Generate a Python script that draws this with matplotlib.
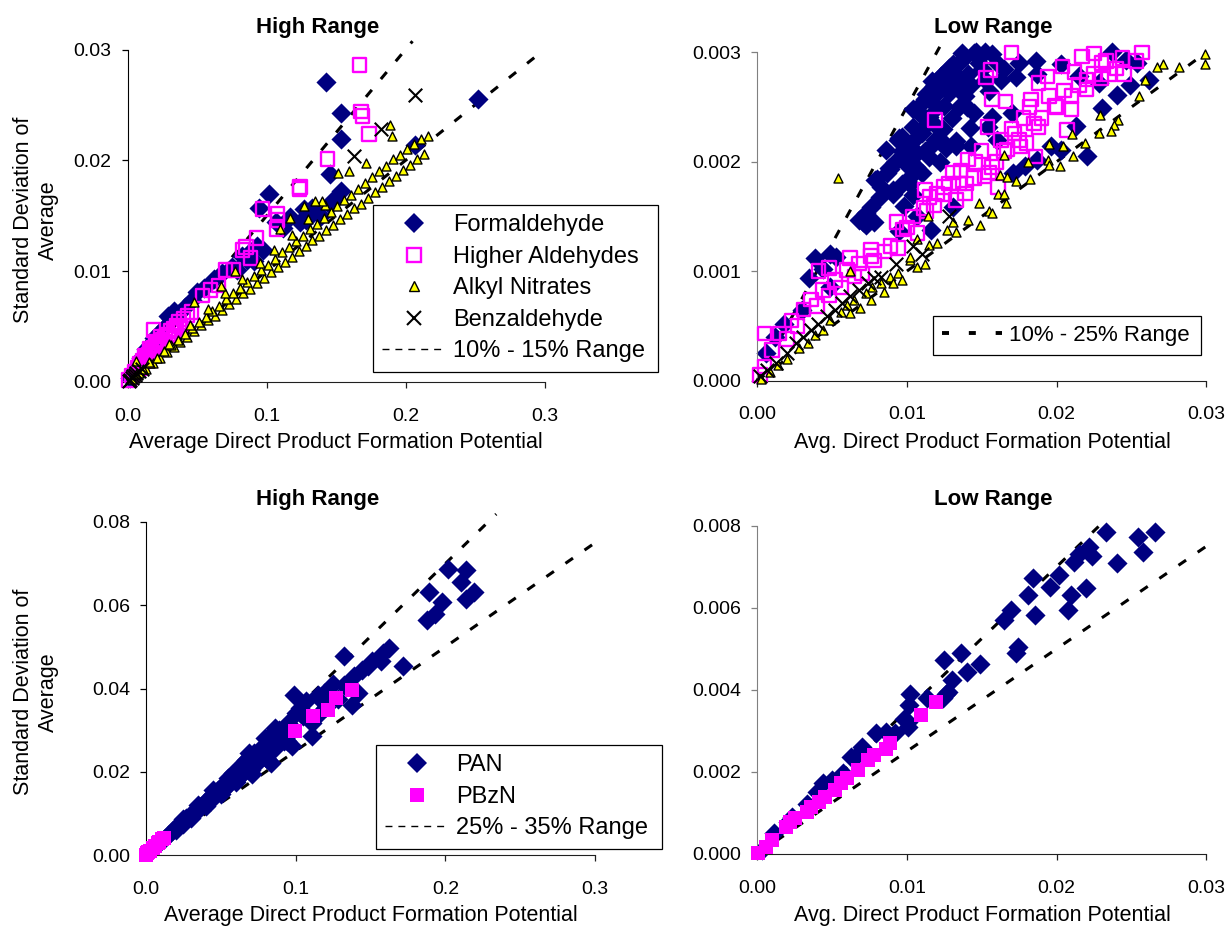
"""Variability of direct product formation potentials: high and low range panels."""

import matplotlib
matplotlib.use("Agg")
import matplotlib.pyplot as plt
from matplotlib.lines import Line2D
from matplotlib.ticker import FormatStrFormatter
import numpy as np

plt.rcParams["font.family"] = ["Liberation Sans", "DejaVu Sans"]

NAVY = "#000080"
MAGENTA = "#FF00FF"
YELLOW = "#FFFF00"

# ---- top row: aldehydes and nitrates, high range (x, y) ----
tl_formaldehyde = [
    (0.143, 0.0271), (0.252, 0.0255), (0.1536, 0.0243), (0.1536, 0.0219), (0.1459, 0.0188),
    (0.1536, 0.0172), (0.1017, 0.0170), (0.0946, 0.0157), (0.117, 0.0149), (0.124, 0.0144),
    (0.128, 0.0146), (0.133, 0.0157), (0.1457, 0.0160), (0.107, 0.0144), (0.147, 0.0163),
    (0.2066, 0.0214), (0.0976, 0.0119), (0.0859, 0.0110), (0.093, 0.0123), (0.0333, 0.0064),
    (0.0287, 0.0060), (0.050, 0.0081), (0.0187, 0.0040), (0.0129, 0.0030), (0.0093, 0.0022),
    (0.112, 0.0139), (0.139, 0.0150), (0.002, 0.0004), (0.004, 0.0008), (0.006, 0.0012),
    (0.008, 0.0016), (0.011, 0.0022), (0.015, 0.0029), (0.017, 0.0034), (0.021, 0.0041),
    (0.024, 0.0046), (0.027, 0.0050), (0.031, 0.0057), (0.036, 0.0061), (0.041, 0.0068),
    (0.046, 0.0074), (0.055, 0.0085), (0.062, 0.0093), (0.068, 0.0098), (0.075, 0.0104),
    (0.082, 0.0114), (0.088, 0.0117), (0.091, 0.0109), (0.079, 0.0101), (0.127, 0.0156),
]
tl_higher_ald = [
    (0.1667, 0.0286), (0.168, 0.0244), (0.169, 0.0240), (0.1735, 0.0224), (0.1439, 0.0201),
    (0.124, 0.0176), (0.1235, 0.0174), (0.0969, 0.0156), (0.1077, 0.0152), (0.1077, 0.0146),
    (0.107, 0.0138), (0.0926, 0.0130), (0.0825, 0.0119), (0.085, 0.0122), (0.0883, 0.0112),
    (0.0703, 0.0101), (0.076, 0.0101), (0.0596, 0.0083), (0.0538, 0.0078), (0.0653, 0.0087),
    (0.0187, 0.0047), (0.001, 0.0002), (0.003, 0.0006), (0.005, 0.0009), (0.007, 0.0013),
    (0.009, 0.0016), (0.011, 0.0019), (0.013, 0.0022), (0.015, 0.0025), (0.017, 0.0028),
    (0.019, 0.0031), (0.021, 0.0033), (0.023, 0.0036), (0.025, 0.0038), (0.027, 0.0041),
    (0.029, 0.0043), (0.031, 0.0046), (0.033, 0.0048), (0.035, 0.0051), (0.037, 0.0054),
    (0.040, 0.0057), (0.043, 0.0060), (0.046, 0.0063), (0.012, 0.0024), (0.016, 0.0030),
    (0.020, 0.0036), (0.024, 0.0041), (0.014, 0.0020), (0.018, 0.0026), (0.022, 0.0031),
    (0.026, 0.0036), (0.030, 0.0041), (0.034, 0.0046), (0.038, 0.0050), (0.008, 0.0012),
    (0.010, 0.0015),
]
tl_alkyl = [
    # lower edge of the band
    (0.003, 0.0003), (0.008, 0.0008), (0.013, 0.0012), (0.018, 0.0017), (0.023, 0.0022),
    (0.028, 0.0027), (0.033, 0.0032), (0.038, 0.0036), (0.043, 0.0041), (0.048, 0.0046),
    (0.053, 0.0051), (0.058, 0.0056), (0.063, 0.0060), (0.068, 0.0065), (0.073, 0.0070),
    (0.078, 0.0075), (0.083, 0.0080), (0.088, 0.0084), (0.093, 0.0089), (0.098, 0.0094),
    (0.103, 0.0099), (0.108, 0.0104), (0.113, 0.0108), (0.118, 0.0113), (0.123, 0.0118),
    (0.128, 0.0123), (0.133, 0.0128), (0.138, 0.0132), (0.143, 0.0137), (0.148, 0.0142),
    (0.153, 0.0147), (0.158, 0.0152), (0.163, 0.0157), (0.168, 0.0161), (0.173, 0.0166),
    (0.178, 0.0171), (0.183, 0.0176), (0.188, 0.0181), (0.193, 0.0186), (0.198, 0.0191),
    (0.203, 0.0196), (0.208, 0.0201), (0.213, 0.0206),
    # middle of the band
    (0.006, 0.0007), (0.011, 0.0012), (0.016, 0.0017), (0.021, 0.0022), (0.026, 0.0028),
    (0.031, 0.0033), (0.036, 0.0038), (0.041, 0.0043), (0.046, 0.0049), (0.051, 0.0054),
    (0.056, 0.0059), (0.061, 0.0064), (0.066, 0.0069), (0.071, 0.0075), (0.076, 0.0080),
    (0.081, 0.0085), (0.086, 0.0090), (0.091, 0.0096), (0.096, 0.0101), (0.101, 0.0106),
    (0.106, 0.0111), (0.111, 0.0117), (0.116, 0.0122), (0.121, 0.0127), (0.126, 0.0132),
    (0.131, 0.0138), (0.136, 0.0143), (0.141, 0.0148), (0.146, 0.0153), (0.151, 0.0159),
    (0.156, 0.0164), (0.161, 0.0169), (0.166, 0.0174), (0.171, 0.0180), (0.176, 0.0185),
    (0.181, 0.0190), (0.186, 0.0195), (0.191, 0.0201), (0.196, 0.0205), (0.201, 0.0210),
    (0.206, 0.0215), (0.211, 0.0219), (0.216, 0.0222),
    # upper side and strays
    (0.015, 0.0018), (0.030, 0.0034), (0.045, 0.0051), (0.058, 0.0066), (0.070, 0.0080),
    (0.082, 0.0093), (0.095, 0.0107), (0.105, 0.0119), (0.118, 0.0133), (0.130, 0.0147),
    (0.142, 0.0160), (0.1886, 0.0232), (0.190, 0.0222), (0.1715, 0.0198), (0.1516, 0.0189),
    (0.159, 0.0190), (0.127, 0.0159), (0.140, 0.0163), (0.1094, 0.0138), (0.0775, 0.0100),
    (0.0476, 0.0072), (0.0675, 0.0087), (0.0063, 0.0019), (0.135, 0.0163), (0.117, 0.0148),
]
tl_benzaldehyde = [
    (0.2066, 0.0259), (0.182, 0.0228), (0.163, 0.0204), (0.001, 0.0001), (0.002, 0.0002),
    (0.003, 0.0004), (0.004, 0.0005), (0.005, 0.0006), (0.006, 0.0008), (0.008, 0.0010),
    (0.010, 0.0012),
]

# ---- top row, low range ----
tr_formaldehyde = [
    (0.0012, 0.00040), (0.0018, 0.00052), (0.0030, 0.00065), (0.0035, 0.00094), (0.0039, 0.00112),
    (0.0049, 0.00116), (0.0053, 0.00113), (0.0049, 0.00086), (0.0044, 0.00102), (0.0068, 0.00147),
    (0.0073, 0.00142), (0.0078, 0.00145), (0.0073, 0.00153), (0.0071, 0.00145), (0.0076, 0.00159),
    (0.0080, 0.00184), (0.0079, 0.00183), (0.0082, 0.00168), (0.0083, 0.00177), (0.0089, 0.00193),
    (0.0091, 0.00171), (0.0086, 0.00211), (0.0088, 0.00194), (0.0091, 0.00174), (0.0094, 0.00220),
    (0.0095, 0.00222), (0.0097, 0.00223), (0.0097, 0.00180), (0.0095, 0.00137), (0.0099, 0.00199),
    (0.0102, 0.00180), (0.0102, 0.00186), (0.0104, 0.00248), (0.0104, 0.00232), (0.0106, 0.00195),
    (0.0107, 0.00208), (0.0107, 0.00150), (0.0110, 0.00226), (0.0111, 0.00255), (0.0112, 0.00257),
    (0.0115, 0.00204), (0.0115, 0.00241), (0.0116, 0.00138), (0.0117, 0.00274), (0.0118, 0.00269),
    (0.0120, 0.00232), (0.0120, 0.00250), (0.0123, 0.00278), (0.0124, 0.00280), (0.0125, 0.00251),
    (0.0125, 0.00217), (0.0126, 0.00213), (0.0128, 0.00263), (0.0128, 0.00286), (0.0131, 0.00289),
    (0.0131, 0.00159), (0.0133, 0.00214), (0.0133, 0.00219), (0.0136, 0.00269), (0.0137, 0.00299),
    (0.0139, 0.00296), (0.0141, 0.00280), (0.0142, 0.00231), (0.0143, 0.00214), (0.0145, 0.00299),
    (0.0145, 0.00245), (0.0146, 0.00300), (0.0152, 0.00275), (0.0155, 0.00265), (0.0157, 0.00298),
    (0.0157, 0.00241), (0.0165, 0.00285), (0.0170, 0.00245), (0.0173, 0.00277), (0.0175, 0.00290),
    (0.0186, 0.00292), (0.0187, 0.00280), (0.0100, 0.00210), (0.0105, 0.00220), (0.0110, 0.00230),
    (0.0112, 0.00240), (0.0118, 0.00260), (0.0122, 0.00270), (0.0127, 0.00270), (0.0132, 0.00280),
    (0.0135, 0.00290), (0.0108, 0.00245), (0.0113, 0.00262), (0.0119, 0.00220), (0.0124, 0.00230),
    (0.0130, 0.00240), (0.0135, 0.00250), (0.0139, 0.00260), (0.0143, 0.00270), (0.0148, 0.00290),
    (0.0152, 0.00300), (0.0092, 0.00200), (0.0087, 0.00190), (0.0097, 0.00210), (0.0103, 0.00200),
    (0.0112, 0.00210), (0.0117, 0.00215), (0.0160, 0.00290), (0.0150, 0.00285), (0.0140, 0.00250),
    (0.0163, 0.00275), (0.0203, 0.00289), (0.0215, 0.00278), (0.0228, 0.00272), (0.0237, 0.00300),
    (0.0246, 0.00293), (0.0254, 0.00290), (0.0262, 0.00275), (0.0249, 0.00270), (0.0240, 0.00261),
    (0.0230, 0.00249), (0.0213, 0.00233), (0.0196, 0.00214), (0.0203, 0.00211), (0.0179, 0.00196),
    (0.0171, 0.00190), (0.0187, 0.00202), (0.0220, 0.00205), (0.0154, 0.00232), (0.0160, 0.00220),
    (0.0006, 0.00025), (0.0098, 0.00160), (0.0104, 0.00170), (0.0110, 0.00190), (0.0122, 0.00200),
]
tr_higher_ald = [
    (0.0005, 0.00043), (0.0041, 0.00100), (0.0048, 0.00103), (0.0062, 0.00112), (0.0076, 0.00120),
    (0.0076, 0.00114), (0.0094, 0.00121), (0.0093, 0.00145), (0.0107, 0.00135), (0.0111, 0.00158),
    (0.0112, 0.00174), (0.0120, 0.00171), (0.0131, 0.00190), (0.0133, 0.00165), (0.0139, 0.00171),
    (0.0141, 0.00202), (0.0152, 0.00187), (0.0161, 0.00177), (0.0157, 0.00195), (0.0154, 0.00232),
    (0.0157, 0.00257), (0.0166, 0.00255), (0.0153, 0.00277), (0.0156, 0.00284), (0.0170, 0.00300),
    (0.0119, 0.00238), (0.0172, 0.00226), (0.0183, 0.00257), (0.0188, 0.00272), (0.0194, 0.00278),
    (0.0204, 0.00287), (0.0207, 0.00229), (0.0210, 0.00248), (0.0217, 0.00296), (0.0225, 0.00299),
    (0.0233, 0.00292), (0.0244, 0.00295), (0.0257, 0.00300), (0.0253, 0.00292), (0.0230, 0.00276),
    (0.0220, 0.00266), (0.0199, 0.00251), (0.0188, 0.00232), (0.0180, 0.00217), (0.0167, 0.00211),
    (0.0186, 0.00205), (0.0176, 0.00214), (0.0136, 0.00192), (0.0125, 0.00177), (0.0115, 0.00168),
    (0.0104, 0.00150), (0.0097, 0.00138), (0.0089, 0.00123), (0.0078, 0.00110), (0.0068, 0.00107),
    (0.0060, 0.00101), (0.0052, 0.00092), (0.0044, 0.00083), (0.0036, 0.00074), (0.0031, 0.00065),
    (0.0023, 0.00055), (0.0015, 0.00043), (0.0010, 0.00028), (0.0005, 0.00013), (0.0002, 0.00005),
    (0.0190, 0.00240), (0.0200, 0.00250), (0.0210, 0.00260), (0.0215, 0.00270), (0.0205, 0.00265),
    (0.0185, 0.00235), (0.0175, 0.00220), (0.0165, 0.00210), (0.0160, 0.00200), (0.0155, 0.00190),
    (0.0145, 0.00185), (0.0140, 0.00180), (0.0135, 0.00180), (0.0125, 0.00170), (0.0225, 0.00280),
    (0.0235, 0.00280), (0.0240, 0.00285), (0.0220, 0.00275), (0.0230, 0.00290), (0.0195, 0.00260),
    (0.0182, 0.00250), (0.0178, 0.00240), (0.0170, 0.00230), (0.0163, 0.00220), (0.0150, 0.00210),
    (0.0146, 0.00200), (0.0128, 0.00180), (0.0118, 0.00160), (0.0113, 0.00155), (0.0100, 0.00140),
    (0.0085, 0.00118), (0.0070, 0.00098), (0.0065, 0.00095), (0.0056, 0.00085), (0.0048, 0.00078),
    (0.0040, 0.00068), (0.0027, 0.00050), (0.0020, 0.00038), (0.0212, 0.00282), (0.0245, 0.00280),
]
tr_alkyl = [
    (0.0054, 0.00185), (0.0299, 0.00298), (0.0299, 0.00289), (0.0282, 0.00287), (0.0271, 0.00289),
    (0.0267, 0.00287), (0.0259, 0.00275), (0.0255, 0.00260), (0.0241, 0.00238), (0.0238, 0.00234),
    (0.0236, 0.00228), (0.0228, 0.00226), (0.0229, 0.00243), (0.0219, 0.00217), (0.0211, 0.00205),
    (0.0210, 0.00225), (0.0195, 0.00216), (0.0204, 0.00214), (0.0194, 0.00202), (0.0195, 0.00197),
    (0.0202, 0.00196), (0.0181, 0.00200), (0.0182, 0.00184), (0.0173, 0.00182), (0.0165, 0.00206),
    (0.0162, 0.00188), (0.0167, 0.00186), (0.0161, 0.00171), (0.0165, 0.00171), (0.0166, 0.00162),
    (0.0148, 0.00162), (0.0155, 0.00155), (0.0157, 0.00153), (0.0141, 0.00147), (0.0149, 0.00142),
    (0.0131, 0.00145), (0.0133, 0.00136), (0.0127, 0.00138), (0.0114, 0.00150), (0.0112, 0.00107),
    (0.0107, 0.00104), (0.0102, 0.00110), (0.0115, 0.00124), (0.0120, 0.00126), (0.0107, 0.00129),
    (0.0102, 0.00113), (0.0094, 0.00098), (0.0089, 0.00095), (0.0097, 0.00092), (0.0091, 0.00089),
    (0.0062, 0.00100), (0.0062, 0.00062), (0.0069, 0.00066), (0.0076, 0.00074), (0.0085, 0.00081),
    (0.0083, 0.00089), (0.0077, 0.00086), (0.0073, 0.00080), (0.0065, 0.00074), (0.0060, 0.00069),
    (0.0056, 0.00063), (0.0049, 0.00055), (0.0044, 0.00046), (0.0039, 0.00042), (0.0034, 0.00034),
    (0.0028, 0.00030), (0.0020, 0.00020), (0.0014, 0.00014), (0.0009, 0.00008), (0.0003, 0.00002),
]
tr_benzaldehyde = [
    (0.0128, 0.00150), (0.0104, 0.00123), (0.0110, 0.00116), (0.0093, 0.00107), (0.0083, 0.00095),
    (0.0078, 0.00094), (0.0074, 0.00089), (0.0068, 0.00083), (0.0062, 0.00077), (0.0057, 0.00071),
    (0.0052, 0.00065), (0.0047, 0.00059), (0.0041, 0.00052), (0.0036, 0.00046), (0.0031, 0.00040),
    (0.0026, 0.00034), (0.0020, 0.00025), (0.0013, 0.00016), (0.0007, 0.00010), (0.0002, 0.00004),
]

# ---- bottom row: PAN and PBzN ----
bl_pan = [
    (0.2017, 0.0688), (0.2141, 0.0684), (0.2102, 0.0656), (0.2194, 0.0632), (0.2141, 0.0616),
    (0.1977, 0.0608), (0.1890, 0.0632), (0.1930, 0.0580), (0.1877, 0.0564), (0.1626, 0.0497),
    (0.1586, 0.0485), (0.1573, 0.0465), (0.1507, 0.0465), (0.1480, 0.0453), (0.1440, 0.0445),
    (0.1718, 0.0454), (0.1322, 0.0477), (0.1388, 0.0429), (0.1322, 0.0409), (0.1414, 0.0389),
    (0.1375, 0.0361), (0.1190, 0.0389), (0.0991, 0.0385), (0.1070, 0.0369), (0.1030, 0.0353),
    (0.1110, 0.0317), (0.1110, 0.0285), (0.0950, 0.0317), (0.0860, 0.0305), (0.0978, 0.0261),
    (0.0833, 0.0221), (0.0793, 0.0281), (0.0687, 0.0245), (0.004, 0.0013), (0.008, 0.0026),
    (0.012, 0.0039), (0.015, 0.0049), (0.018, 0.0059), (0.021, 0.0069), (0.024, 0.0078),
    (0.027, 0.0088), (0.030, 0.0097), (0.033, 0.0107), (0.036, 0.0116), (0.039, 0.0126),
    (0.042, 0.0136), (0.045, 0.0146), (0.048, 0.0155), (0.051, 0.0165), (0.054, 0.0174),
    (0.057, 0.0184), (0.060, 0.0194), (0.063, 0.0203), (0.066, 0.0213), (0.069, 0.0222),
    (0.072, 0.0232), (0.075, 0.0241), (0.078, 0.0250), (0.081, 0.0262), (0.084, 0.0270),
    (0.087, 0.0283), (0.090, 0.0292), (0.093, 0.0300), (0.050, 0.0155), (0.056, 0.0172),
    (0.062, 0.0188), (0.068, 0.0205), (0.074, 0.0222), (0.080, 0.0240), (0.086, 0.0258),
    (0.092, 0.0275), (0.055, 0.0185), (0.062, 0.0210), (0.067, 0.0228), (0.072, 0.0245),
    (0.078, 0.0262), (0.083, 0.0285), (0.089, 0.0300), (0.076, 0.0235), (0.100, 0.0340),
    (0.105, 0.0335), (0.115, 0.0385), (0.118, 0.0368), (0.125, 0.0410), (0.128, 0.0375),
    (0.116, 0.0340), (0.120, 0.0355), (0.097, 0.0295), (0.094, 0.0275), (0.071, 0.0195),
    (0.082, 0.0225), (0.020, 0.0060), (0.025, 0.0075), (0.030, 0.0088), (0.035, 0.0108),
    (0.040, 0.0117), (0.045, 0.0138), (0.050, 0.0147), (0.055, 0.0168), (0.060, 0.0176),
    (0.065, 0.0198), (0.070, 0.0205), (0.080, 0.0232), (0.025, 0.0087), (0.035, 0.0120),
    (0.045, 0.0155), (0.058, 0.0198), (0.065, 0.0222),
]
bl_pbzn = [
    (0.1375, 0.0397), (0.1269, 0.0377), (0.1216, 0.0349), (0.1118, 0.0333), (0.0997, 0.0299),
    (0.0106, 0.0038), (0.0080, 0.0028), (0.0060, 0.0022), (0.0045, 0.0016), (0.0026, 0.0010),
    (0.0010, 0.0004), (0.0003, 0.0001), (0.0015, 0.0008), (0.0090, 0.0032), (0.0120, 0.0041),
]
br_pan = [
    (0.02331, 0.00785), (0.02659, 0.00784), (0.02546, 0.00773), (0.02575, 0.00737), (0.02404, 0.00708),
    (0.02218, 0.00747), (0.02234, 0.00727), (0.02152, 0.00732), (0.02115, 0.00712), (0.02194, 0.00647),
    (0.02094, 0.00631), (0.02076, 0.00594), (0.02016, 0.00680), (0.01958, 0.00651), (0.01845, 0.00672),
    (0.01806, 0.00631), (0.01858, 0.00582), (0.01693, 0.00594), (0.01648, 0.00570), (0.01740, 0.00505),
    (0.01732, 0.00489), (0.01491, 0.00464), (0.01360, 0.00489), (0.01249, 0.00473), (0.01404, 0.00444),
    (0.01302, 0.00424), (0.01276, 0.00395), (0.01241, 0.00379), (0.01136, 0.00379), (0.01024, 0.00391),
    (0.01018, 0.00363), (0.01005, 0.00322), (0.01005, 0.00310), (0.00980, 0.00330), (0.00919, 0.00294),
    (0.00861, 0.00298), (0.00795, 0.00294), (0.00703, 0.00261), (0.00625, 0.00237), (0.00572, 0.00197),
    (0.00441, 0.00172), (0.00336, 0.00123), (0.00231, 0.00091), (0.00205, 0.00079), (0.00113, 0.00050),
    (0.00034, 0.00010), (0.01262, 0.00390), (0.00660, 0.00240), (0.00500, 0.00180), (0.00400, 0.00150),
]
br_pbzn = [
    (0.01197, 0.00371), (0.01097, 0.00339), (0.00887, 0.00270), (0.00861, 0.00257), (0.00782, 0.00241),
    (0.00743, 0.00229), (0.00672, 0.00205), (0.00598, 0.00184), (0.00559, 0.00172), (0.00520, 0.00156),
    (0.00454, 0.00140), (0.00415, 0.00127), (0.00362, 0.00115), (0.00336, 0.00103), (0.00257, 0.00087),
    (0.00218, 0.00079), (0.00192, 0.00067), (0.00100, 0.00034), (0.00060, 0.00018), (0.00010, 0.00002),
]

# guide lines: (slope, x where the dashed line stops)
tl_guides = [(0.10, 0.296), (0.15, 0.205)]
tr_guides = [(0.10, 0.0295), (0.25, 0.0122)]
bl_guides = [(0.25, 0.301), (0.35, 0.234)]
br_guides = [(0.25, 0.0301), (0.35, 0.0228)]

W, H = 1231, 926

# marker sizes (points^2 for scatter)
S_DIAMOND, S_SQUARE, S_TRI, S_X, S_FILLSQ = 105, 95, 42, 95, 115


def px_axes(left, top, right, bottom):
    return [left / W, 1 - bottom / H, (right - left) / W, (bottom - top) / H]


def style(ax, xmax, ymax, xstep, ystep, xfmt, yfmt, lcolor):
    ax.set_xlim(0, xmax)
    ax.set_ylim(0, ymax)
    ax.set_xticks(np.arange(0, xmax + xstep / 2, xstep))
    ax.set_yticks(np.arange(0, ymax + ystep / 2, ystep))
    ax.xaxis.set_major_formatter(FormatStrFormatter(xfmt))
    ax.yaxis.set_major_formatter(FormatStrFormatter(yfmt))
    for s in ("top", "right"):
        ax.spines[s].set_visible(False)
    ax.spines["left"].set_color(lcolor)
    ax.spines["bottom"].set_color("#202020")
    ax.tick_params(axis="x", direction="out", length=4.5, width=0.9, pad=14,
                   labelsize=14, color="#202020")
    ax.tick_params(axis="y", direction="out", length=4.5, width=0.9, pad=7,
                   labelsize=14, color=lcolor)
    ax.patch.set_alpha(0)


def pts(data):
    a = np.array(data)
    return a[:, 0], a[:, 1]


def guides(ax, lines):
    for slope, xend in lines:
        xs = np.array([0.0, xend])
        ax.plot(xs, slope * xs, color="black", lw=2.2, dashes=(3, 4.6),
                clip_on=False, zorder=1)


def diamonds(ax, data):
    x, y = pts(data)
    ax.scatter(x, y, s=S_DIAMOND, marker="D", color=NAVY, lw=0, clip_on=False, zorder=2)


def aldehydes_nitrates(ax, form, hald, alkyl, benz):
    diamonds(ax, form)
    x, y = pts(hald)
    ax.scatter(x, y, s=S_SQUARE, marker="s", facecolor="none", edgecolor=MAGENTA,
               lw=1.7, clip_on=False, zorder=3)
    x, y = pts(alkyl)
    ax.scatter(x, y, s=S_TRI, marker="^", facecolor=YELLOW, edgecolor="black",
               lw=1.0, clip_on=False, zorder=4)
    x, y = pts(benz)
    ax.scatter(x, y, s=S_X, marker="x", color="black", lw=1.5, clip_on=False, zorder=5)


fig = plt.figure(figsize=(W / 100, H / 100), dpi=100)

# top-left: high range, aldehydes / nitrates
ax1 = fig.add_axes(px_axes(127.7, 49.5, 544.5, 382))
style(ax1, 0.3, 0.03, 0.1, 0.01, "%.1f", "%.2f", "black")
guides(ax1, tl_guides)
aldehydes_nitrates(ax1, tl_formaldehyde, tl_higher_ald, tl_alkyl, tl_benzaldehyde)

# top-right: low range
ax2 = fig.add_axes(px_axes(757, 52.3, 1206.4, 380.7))
style(ax2, 0.03, 0.003, 0.01, 0.001, "%.2f", "%.3f", "#808080")
guides(ax2, tr_guides)
aldehydes_nitrates(ax2, tr_formaldehyde, tr_higher_ald, tr_alkyl, tr_benzaldehyde)

# bottom-left: high range, PANs
ax3 = fig.add_axes(px_axes(146, 522, 595, 855))
style(ax3, 0.3, 0.08, 0.1, 0.02, "%.1f", "%.2f", "black")
guides(ax3, bl_guides)
diamonds(ax3, bl_pan)
x, y = pts(bl_pbzn)
ax3.scatter(x, y, s=S_FILLSQ, marker="s", color=MAGENTA, lw=0, clip_on=False, zorder=3)

# bottom-right: low range, PANs
ax4 = fig.add_axes(px_axes(757, 525.7, 1206.4, 854))
style(ax4, 0.03, 0.008, 0.01, 0.002, "%.2f", "%.3f", "#808080")
guides(ax4, br_guides)
diamonds(ax4, br_pan)
x, y = pts(br_pbzn)
ax4.scatter(x, y, s=S_FILLSQ, marker="s", color=MAGENTA, lw=0, clip_on=False, zorder=3)

# legends
thin_dash = Line2D([], [], color="black", lw=1.0, dashes=(5, 4.3))
thick_dash = Line2D([], [], color="black", lw=2.8, dashes=(1.8, 5.1))
legend_kw = dict(loc="upper left", mode="expand", bbox_transform=fig.transFigure,
                 frameon=True, fancybox=False, framealpha=1,
                 edgecolor="black", borderaxespad=0, borderpad=0.4,
                 handletextpad=0.3, handlelength=2.7, labelspacing=0.4)

h_tl = [
    Line2D([], [], ls="none", marker="D", ms=np.sqrt(S_DIAMOND), color=NAVY, mew=0),
    Line2D([], [], ls="none", marker="s", ms=np.sqrt(S_SQUARE), mfc="none", mec=MAGENTA, mew=1.7),
    Line2D([], [], ls="none", marker="^", ms=np.sqrt(S_TRI), mfc=YELLOW, mec="black", mew=1.0),
    Line2D([], [], ls="none", marker="x", ms=np.sqrt(S_X), color="black", mew=1.5),
    thin_dash,
]
leg = ax1.legend(h_tl, ["Formaldehyde", "Higher Aldehydes", "Alkyl Nitrates",
                        "Benzaldehyde", "10% - 15% Range"], fontsize=17,
                 bbox_to_anchor=(373 / W, 1 - 372 / H, 285 / W, 167 / H), **legend_kw)
leg.get_frame().set_linewidth(0.9)

leg = ax2.legend([thick_dash], ["10% - 25% Range"], fontsize=16,
                 bbox_to_anchor=(933 / W, 1 - 356 / H, 268 / W, 40 / H), **legend_kw)
leg.get_frame().set_linewidth(0.9)

h_bl = [
    Line2D([], [], ls="none", marker="D", ms=np.sqrt(S_DIAMOND), color=NAVY, mew=0),
    Line2D([], [], ls="none", marker="s", ms=np.sqrt(S_FILLSQ), color=MAGENTA, mew=0),
    thin_dash,
]
leg = ax3.legend(h_bl, ["PAN", "PBzN", "25% - 35% Range"], fontsize=17,
                 bbox_to_anchor=(376 / W, 1 - 846 / H, 286 / W, 101 / H), **legend_kw)
leg.get_frame().set_linewidth(0.9)

# titles and axis labels
for cx, cy, txt in [(318, 27, "High Range"), (993, 27, "Low Range"),
                    (318, 499, "High Range"), (993, 499, "Low Range")]:
    fig.text(cx / W, 1 - cy / H, txt, ha="center", va="center",
             fontsize=16, fontweight="bold")

for cx, cy, txt in [(336, 442, "Average Direct Product Formation Potential"),
                    (982, 442, "Avg. Direct Product Formation Potential"),
                    (371, 915, "Average Direct Product Formation Potential"),
                    (982, 915, "Avg. Direct Product Formation Potential")]:
    fig.text(cx / W, 1 - cy / H, txt, ha="center", va="center", fontsize=15.5)

for cy in (220, 692):
    fig.text(36 / W, 1 - cy / H, "Standard Deviation of\nAverage", rotation=90,
             ha="center", va="center", ma="center", fontsize=15.5, linespacing=1.3)

fig.savefig("out.png", dpi=100)
